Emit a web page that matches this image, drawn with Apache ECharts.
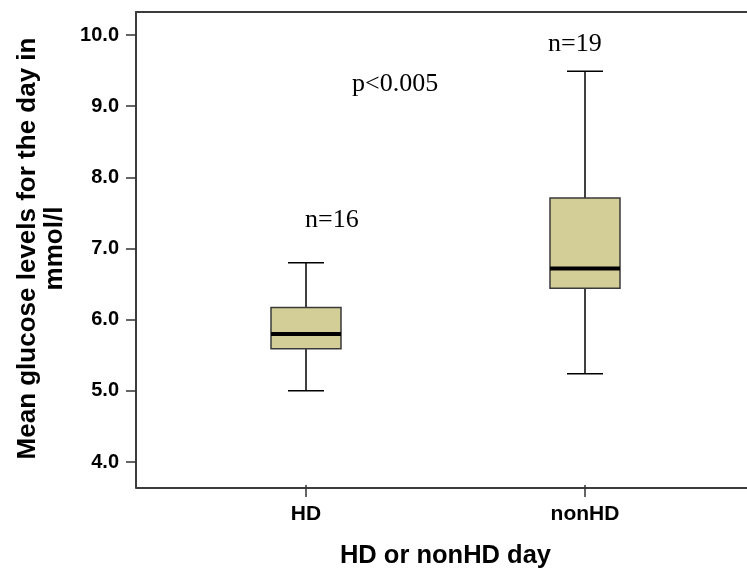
<!DOCTYPE html>
<html>
<head>
<meta charset="utf-8">
<script src="https://cdn.jsdelivr.net/npm/echarts@6/dist/echarts.min.js"></script>
<style>
  body { margin: 0; background: #fff; }
  #chart { width: 747px; height: 574px; }
</style>
</head>
<body>
<div id="chart"></div>
<script>
// box plot data
var categories = ['HD', 'nonHD'];
var lowWhisker = [5.0, 5.24];
var q1 = [5.59, 6.44];
var median = [5.8, 6.72];
var q3 = [6.17, 7.71];
var highWhisker = [6.8, 9.49];
var yMin = 4, yMax = 10, yStep = 1;

var boxData = categories.map(function (c, i) {
    return [i, lowWhisker[i], q1[i], median[i], q3[i], highWhisker[i]];
});

var chart = echarts.init(document.getElementById('chart'));

var sansFont = '"Liberation Sans", Arial, sans-serif';
var serifFont = '"Liberation Serif", "Times New Roman", serif';
var frameLine = { show: true, lineStyle: { color: '#3c3c3c', width: 2 } };

function renderBox(params, api) {
    var i = api.value(0);
    var pLow = api.coord([i, api.value(1)]);
    var pQ1 = api.coord([i, api.value(2)]);
    var pMed = api.coord([i, api.value(3)]);
    var pQ3 = api.coord([i, api.value(4)]);
    var pHigh = api.coord([i, api.value(5)]);
    var x = pMed[0];
    var half = 35;    // half box width
    var cap = 18;     // half whisker cap
    var lineStyle = { stroke: '#000', lineWidth: 1.5 };
    return {
        type: 'group',
        children: [
            { type: 'line', shape: { x1: x, y1: pHigh[1], x2: x, y2: pQ3[1] }, style: lineStyle },
            { type: 'line', shape: { x1: x, y1: pQ1[1], x2: x, y2: pLow[1] }, style: lineStyle },
            { type: 'line', shape: { x1: x - cap, y1: pHigh[1], x2: x + cap, y2: pHigh[1] }, style: lineStyle },
            { type: 'line', shape: { x1: x - cap, y1: pLow[1], x2: x + cap, y2: pLow[1] }, style: lineStyle },
            {
                type: 'rect',
                shape: { x: x - half, y: pQ3[1], width: half * 2, height: pQ1[1] - pQ3[1] },
                style: { fill: '#d3ce97', stroke: '#3a3a3a', lineWidth: 1.5 }
            },
            {
                type: 'line',
                shape: { x1: x - half, y1: pMed[1], x2: x + half, y2: pMed[1] },
                style: { stroke: '#000', lineWidth: 4 }
            }
        ]
    };
}

var option = {
    animation: false,
    backgroundColor: '#fff',
    grid: [
        // data area
        { left: 166.5, right: 22.5, top: 35, bottom: 109.7 },
        // frame: left, bottom and top lines (right side is cut off in the original)
        { left: 136, right: 0, top: 12, bottom: 86.7 }
    ],
    xAxis: [
        {
            type: 'category',
            gridIndex: 0,
            data: categories,
            offset: 23,
            boundaryGap: true,
            axisLine: { show: false },
            axisTick: { show: true, alignWithLabel: true, length: 12, lineStyle: { color: '#333', width: 1.5 } },
            axisLabel: { margin: 19, color: '#000', fontFamily: sansFont, fontWeight: 'bold', fontSize: 21 },
            splitLine: { show: false },
            name: 'HD or nonHD day',
            nameLocation: 'middle',
            nameGap: 58,
            nameTextStyle: { color: '#000', fontFamily: sansFont, fontWeight: 'bold', fontSize: 25.5 }
        },
        { type: 'value', gridIndex: 1, position: 'bottom', axisLine: frameLine, axisTick: { show: false }, axisLabel: { show: false }, splitLine: { show: false } },
        { type: 'value', gridIndex: 1, position: 'top', axisLine: frameLine, axisTick: { show: false }, axisLabel: { show: false }, splitLine: { show: false } }
    ],
    yAxis: [
        {
            type: 'value',
            gridIndex: 0,
            min: yMin,
            max: yMax,
            interval: yStep,
            offset: 30.5,
            axisLine: { show: false },
            axisTick: { show: true, length: 10, lineStyle: { color: '#333', width: 1.5 } },
            axisLabel: {
                margin: 17, color: '#000', fontFamily: sansFont, fontWeight: 'bold', fontSize: 20,
                formatter: function (v) { return v.toFixed(1); }
            },
            splitLine: { show: false },
            name: 'Mean glucose levels for the day in\nmmol/l',
            nameLocation: 'middle',
            nameGap: 68,
            nameTextStyle: { color: '#000', fontFamily: sansFont, fontWeight: 'bold', fontSize: 26, lineHeight: 27 }
        },
        { type: 'value', gridIndex: 1, position: 'left', axisLine: frameLine, axisTick: { show: false }, axisLabel: { show: false }, splitLine: { show: false } }
    ],
    graphic: [
        { type: 'text', left: 305, top: 207, style: { text: 'n=16', font: '26px ' + serifFont, fill: '#000' } },
        { type: 'text', left: 548, top: 31, style: { text: 'n=19', font: '26px ' + serifFont, fill: '#000' } },
        { type: 'text', left: 352, top: 71, style: { text: 'p<0.005', font: '26px ' + serifFont, fill: '#000' } }
    ],
    series: [
        {
            type: 'custom',
            xAxisIndex: 0,
            yAxisIndex: 0,
            renderItem: renderBox,
            encode: { x: 0, y: [1, 2, 3, 4, 5] },
            data: boxData,
            z: 3
        }
    ]
};

chart.setOption(option);
</script>
</body>
</html>
